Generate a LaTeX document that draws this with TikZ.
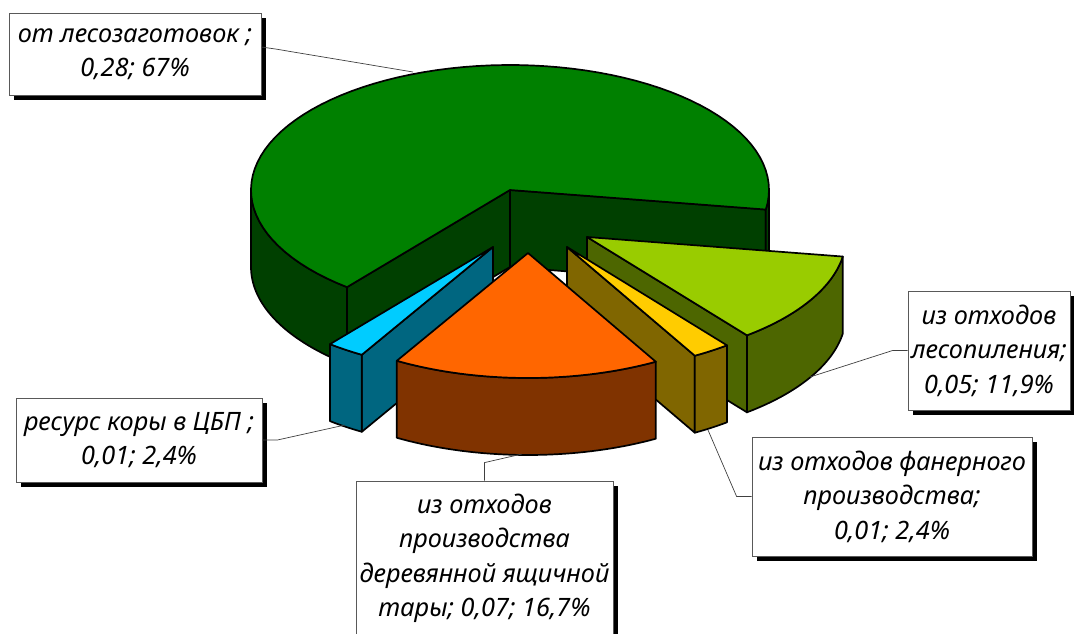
\documentclass[tikz,border=0pt]{standalone}
\usepackage{fontspec}
\setmainfont{Noto Sans}
\usetikzlibrary{shadows,calc}
\definecolor{gtop}{HTML}{008000}
\definecolor{gside}{HTML}{004000}
\definecolor{ltop}{HTML}{99CC00}
\definecolor{lside}{HTML}{4D6600}
\definecolor{ytop}{HTML}{FFCC00}
\definecolor{yside}{HTML}{806600}
\definecolor{otop}{HTML}{FF6600}
\definecolor{oside}{HTML}{803300}
\definecolor{btop}{HTML}{00CCFF}
\definecolor{bside}{HTML}{006680}
\newcommand{\RA}{259}
\newcommand{\RB}{125}
\newcommand{\HH}{77}
\newcommand{\cutface}[4]{%
  \filldraw[pieface,fill=#4] (#1,#2) -- ({#1+\RA*cos(#3)},{#2-\RB*sin(#3)}) -- ({#1+\RA*cos(#3)},{#2+\HH-\RB*sin(#3)}) -- ({#1},{#2+\HH}) -- cycle;}
\newcommand{\rimside}[5]{%
  \filldraw[pieface,fill=#5] plot[variable=\t,domain=#3:#4,samples=40] ({#1+\RA*cos(\t)},{#2-\RB*sin(\t)}) -- plot[variable=\t,domain=#4:#3,samples=40] ({#1+\RA*cos(\t)},{#2+\HH-\RB*sin(\t)}) -- cycle;}
\newcommand{\topface}[5]{%
  \filldraw[pieface,fill=#5] (#1,#2) -- plot[variable=\t,domain=#3:#4,samples=80] ({#1+\RA*cos(\t)},{#2-\RB*sin(\t)}) -- cycle;}
\begin{document}
\begin{tikzpicture}[x=1pt,y=-1pt,
  pieface/.style={draw=black,line width=1.7pt,line join=round},
  lbl/.style={draw=black!65,line width=0.8pt,fill=white,inner sep=0pt,align=center,
    font=\itshape\fontsize{25.3}{34.5}\selectfont,
    general shadow={fill=black,shadow xshift=5pt,shadow yshift=-5pt}},
  leader/.style={draw=black!75,line width=0.7pt}]
\useasboundingbox (0,0) rectangle (1074,634);
\clip (0,0) rectangle (1074,634);
% green slice
\cutface{510}{190}{231}{gside}
\cutface{510}{190}{-9}{gside}
\rimside{510}{190}{180}{231}{gside}
\rimside{510}{190}{-9}{0}{gside}
\topface{510}{190}{-9}{231}{gtop}
% lime slice
\cutface{587}{237}{-51.86}{lside}
\rimside{587}{237}{-51.86}{-9}{lside}
\topface{587}{237}{-51.86}{-9}{ltop}
% yellow slice
\cutface{567}{247}{-60.43}{yside}
\rimside{567}{247}{-60.43}{-51.86}{yside}
\topface{567}{247}{-60.43}{-51.86}{ytop}
% blue slice
\cutface{493}{247}{-120.43}{bside}
\rimside{493}{247}{-129}{-120.43}{bside}
\topface{493}{247}{-129}{-120.43}{btop}
% orange slice
\rimside{528}{253}{-120.43}{-60.43}{oside}
\topface{528}{253}{-120.43}{-60.43}{otop}
% labels
\node[lbl,minimum width=252pt,minimum height=82pt] (l1) at (135,54) {от лесозаготовок ;\\0,28; 67\%};
\node[lbl,minimum width=162pt,minimum height=119pt] (l2) at (989,350.5) {из отходов\\лесопиления;\\0,05; 11,9\%};
\node[lbl,minimum width=280pt,minimum height=119pt] (l3) at (892,496.5) {из отходов фанерного\\производства;\\0,01; 2,4\%};
\node[lbl,minimum width=246pt,minimum height=84pt] (l4) at (139,440) {ресурс коры в ЦБП ;\\0,01; 2,4\%};
\node[lbl,minimum width=257pt,minimum height=155pt] (l5) at (484.5,558.5) {из отходов\\производства\\деревянной ящичной\\тары; 0,07; 16,7\%};
% leader end points
\coordinate (e1) at (413,72);
\coordinate (e2) at (810,377);
\coordinate (e3) at (708,430);
\coordinate (e4) at (345,425);
\coordinate (e5) at (522,454);
\draw[leader] ($(l1.east)+(0,-7)$) -- ++(14,2) -- (e1);
\draw[leader] (l2.west) -- ++(-15,0) -- (e2);
\draw[leader] (l3.west) -- ++(-15,0) -- (e3);
\draw[leader] (l4.east) -- ++(15,0) -- (e4);
\draw[leader] (l5.north) -- ++(0,-18) -- (e5);
\end{tikzpicture}
\end{document}
